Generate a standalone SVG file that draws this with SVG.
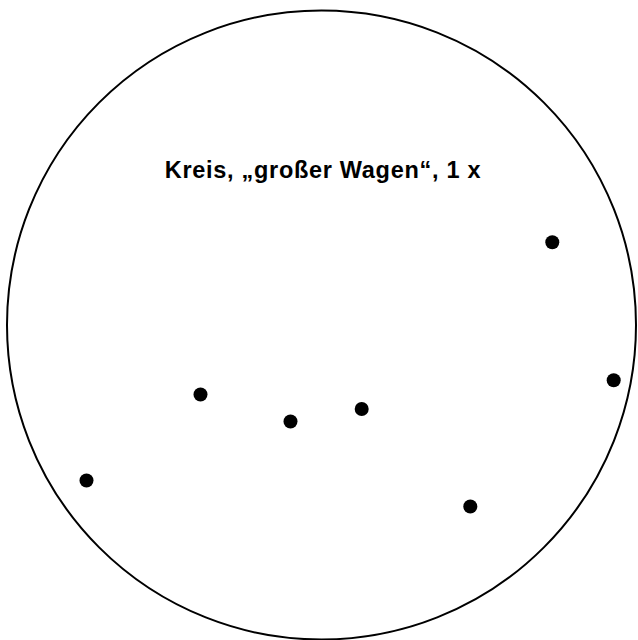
<svg xmlns="http://www.w3.org/2000/svg" width="638" height="640" viewBox="0 0 638 640">
<style>
.star{fill:#000}
.lbl{font-family:"Liberation Sans",Arial,sans-serif;font-size:23.5px;font-weight:bold;letter-spacing:0.7px;fill:#000}
</style>
<rect width="638" height="640" fill="#fff"/>
<circle id="circle" cx="321.5" cy="325" r="314.5" fill="none" stroke="#000" stroke-width="2"/>
<text id="title" class="lbl" x="323" y="178" text-anchor="middle">Kreis, „großer Wagen“, 1 x</text>
<g id="stars">
<circle id="s1" class="star" cx="86.5" cy="480.5" r="7"/>
<circle id="s2" class="star" cx="200.5" cy="394.5" r="7"/>
<circle id="s3" class="star" cx="290.5" cy="421.5" r="7"/>
<circle id="s4" class="star" cx="361.7" cy="409" r="7"/>
<circle id="s5" class="star" cx="470.3" cy="506.5" r="7"/>
<circle id="s6" class="star" cx="552.3" cy="242.3" r="7"/>
<circle id="s7" class="star" cx="613.7" cy="380.3" r="7"/>
</g>
</svg>
